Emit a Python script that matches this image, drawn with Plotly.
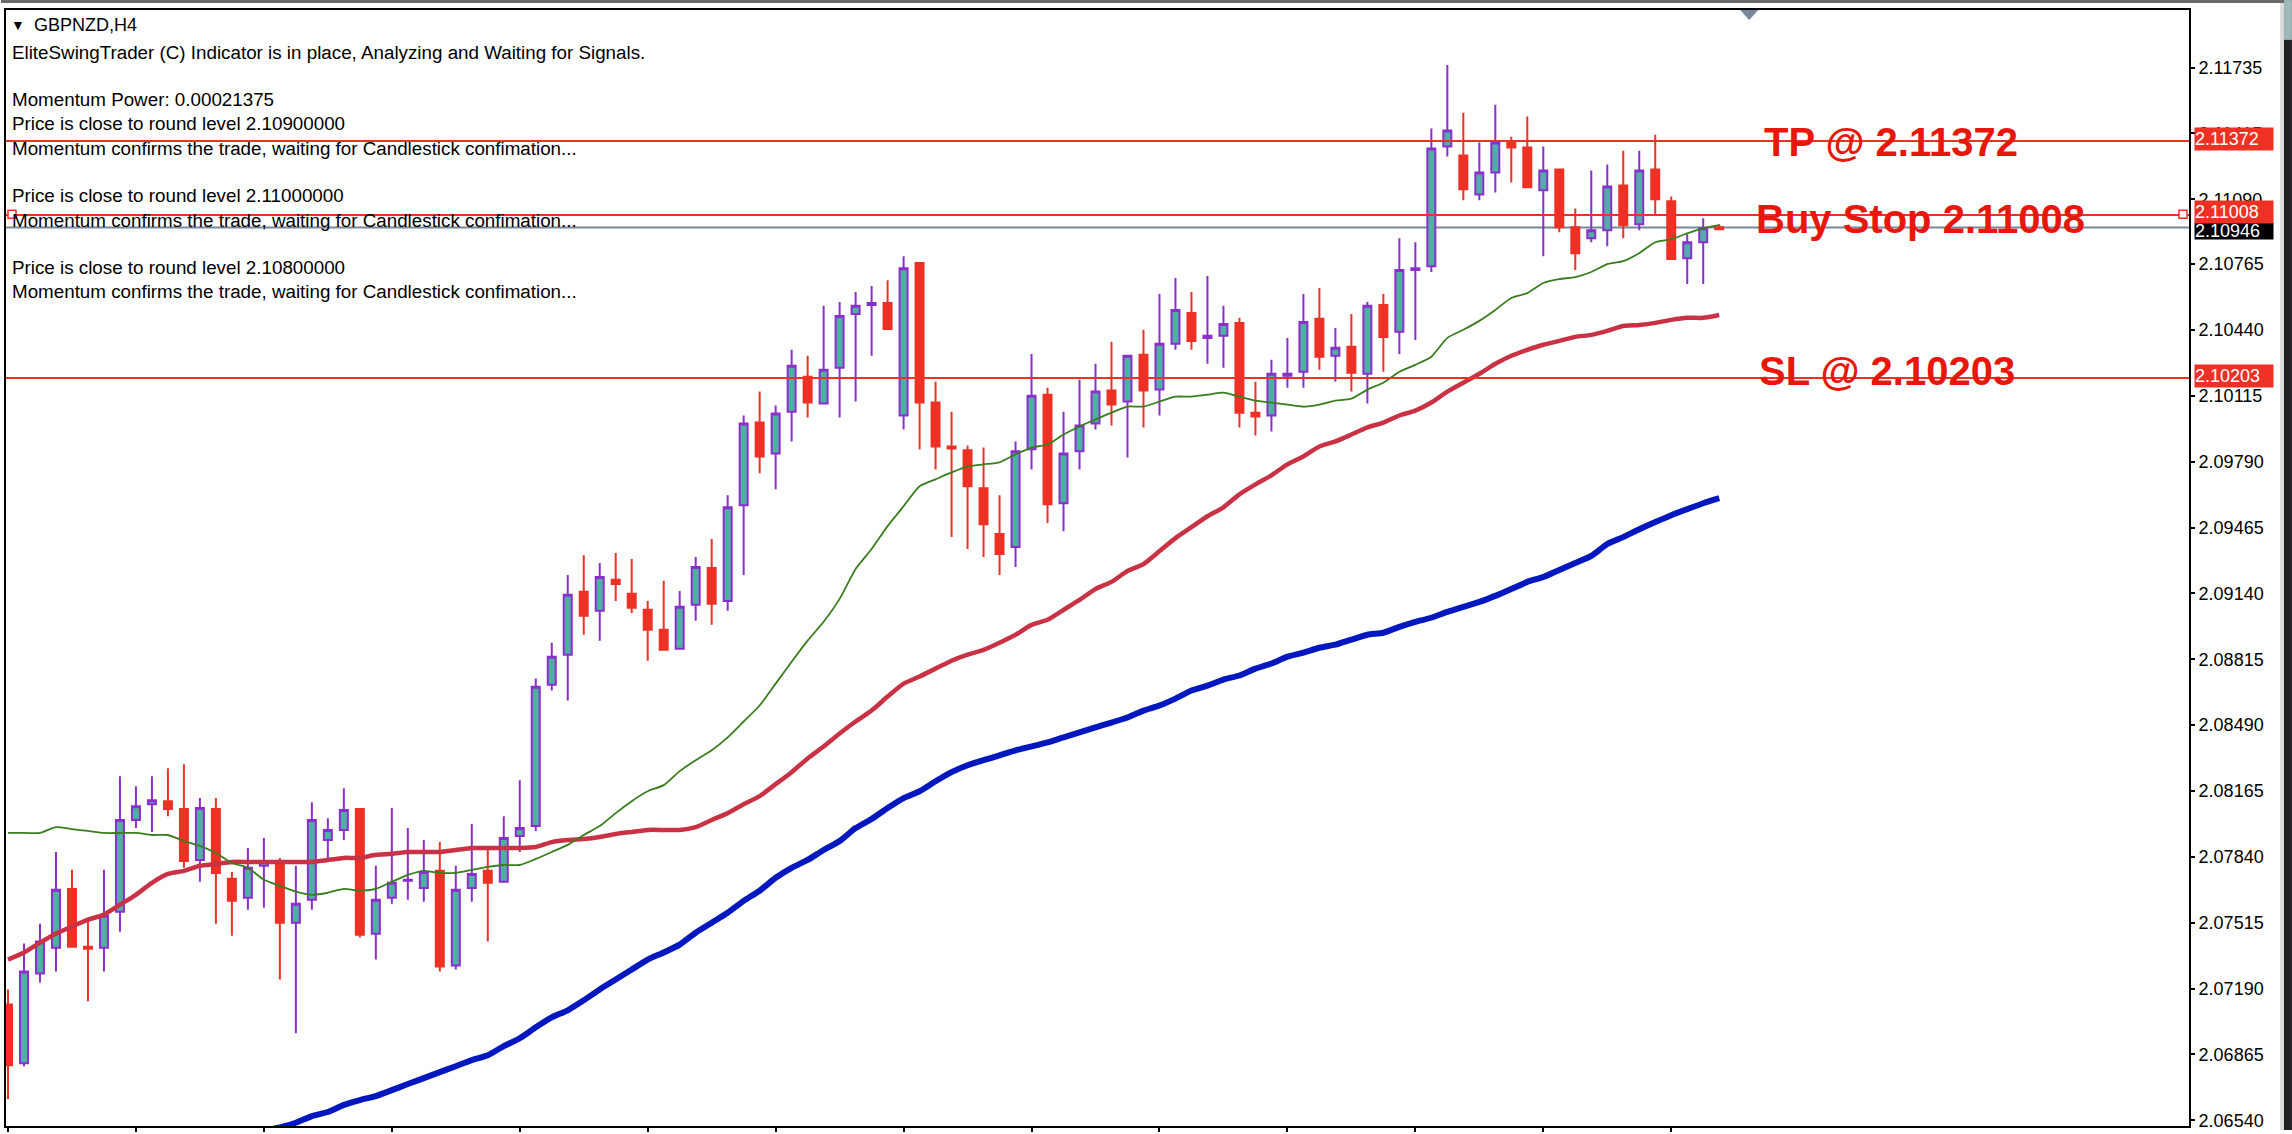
import plotly.graph_objects as go

# GBPNZD H4 bars
open_ = [2.07112, 2.06822, 2.07265, 2.07392, 2.07682, 2.07397, 2.07392, 2.07569, 2.08022, 2.08100, 2.08115, 2.08076,
         2.07825, 2.08076, 2.07732, 2.07638, 2.07796, 2.07810, 2.07515, 2.07628, 2.07923, 2.07973, 2.08076, 2.07461,
         2.07638, 2.07722, 2.07687, 2.07771, 2.07304, 2.07687, 2.07771, 2.07717, 2.07943, 2.07992, 2.08690, 2.08838,
         2.09148, 2.09054, 2.09207, 2.09138, 2.09059, 2.08961, 2.08867, 2.09084, 2.09266, 2.09103, 2.09575, 2.09983,
         2.09831, 2.10037, 2.10209, 2.10077, 2.10254, 2.10519, 2.10563, 2.10573, 2.10018, 2.10770, 2.10082, 2.09865,
         2.09846, 2.09659, 2.09433, 2.09369, 2.09851, 2.10121, 2.09585, 2.09841, 2.09978, 2.10141, 2.10087, 2.10318,
         2.10146, 2.10372, 2.10524, 2.10401, 2.10411, 2.10475, 2.10032, 2.10018, 2.10214, 2.10234, 2.10495, 2.10313,
         2.10357, 2.10224, 2.10563, 2.10431, 2.10736, 2.10755, 2.11345, 2.11301, 2.11109, 2.11217, 2.11365, 2.11340,
         2.11129, 2.11232, 2.10947, 2.10893, 2.10932, 2.11153, 2.10962, 2.11232, 2.11075, 2.10794, 2.10873, 2.10947]
close = [2.06812, 2.07274, 2.07422, 2.07678, 2.07397, 2.07387, 2.07550, 2.08022, 2.08090, 2.08120, 2.08076, 2.07820,
         2.08081, 2.07761, 2.07623, 2.07786, 2.07815, 2.07515, 2.07609, 2.08022, 2.07973, 2.08071, 2.07456, 2.07628,
         2.07712, 2.07727, 2.07766, 2.07299, 2.07678, 2.07756, 2.07712, 2.07933, 2.07982, 2.08680, 2.08828, 2.09133,
         2.09030, 2.09221, 2.09187, 2.09069, 2.08961, 2.08862, 2.09074, 2.09270, 2.09089, 2.09565, 2.09978, 2.09816,
         2.10028, 2.10264, 2.10082, 2.10244, 2.10509, 2.10559, 2.10573, 2.10445, 2.10745, 2.10082, 2.09865, 2.09855,
         2.09669, 2.09482, 2.09334, 2.09841, 2.10116, 2.09580, 2.09831, 2.09969, 2.10136, 2.10072, 2.10313, 2.10141,
         2.10372, 2.10539, 2.10386, 2.10411, 2.10470, 2.10032, 2.10013, 2.10224, 2.10224, 2.10480, 2.10308, 2.10352,
         2.10229, 2.10559, 2.10406, 2.10736, 2.10745, 2.11335, 2.11424, 2.11134, 2.11217, 2.11365, 2.11340, 2.11144,
         2.11227, 2.10947, 2.10819, 2.10932, 2.11148, 2.10957, 2.11227, 2.11085, 2.10790, 2.10873, 2.10942, 2.10937]
high = [2.07186, 2.07412, 2.07510, 2.07864, 2.07776, 2.07540, 2.07776, 2.08238, 2.08189, 2.08238, 2.08277, 2.08297,
        2.08130, 2.08130, 2.07766, 2.07884, 2.07933, 2.07835, 2.07796, 2.08110, 2.08031, 2.08179, 2.08081, 2.07796,
        2.08081, 2.07982, 2.07923, 2.07913, 2.07796, 2.08002, 2.07874, 2.08041, 2.08218, 2.08720, 2.08897, 2.09231,
        2.09329, 2.09290, 2.09339, 2.09310, 2.09103, 2.09202, 2.09152, 2.09320, 2.09408, 2.09624, 2.10018, 2.10136,
        2.10067, 2.10342, 2.10313, 2.10559, 2.10578, 2.10627, 2.10657, 2.10686, 2.10804, 2.10775, 2.10185, 2.10037,
        2.09870, 2.09860, 2.09624, 2.09890, 2.10322, 2.10155, 2.10037, 2.10195, 2.10273, 2.10382, 2.10318, 2.10441,
        2.10618, 2.10696, 2.10627, 2.10706, 2.10559, 2.10500, 2.10185, 2.10293, 2.10401, 2.10618, 2.10647, 2.10450,
        2.10519, 2.10578, 2.10618, 2.10893, 2.10873, 2.11434, 2.11748, 2.11512, 2.11365, 2.11552, 2.11394, 2.11493,
        2.11345, 2.11237, 2.11040, 2.11227, 2.11257, 2.11325, 2.11325, 2.11404, 2.11099, 2.10912, 2.10991, 2.10962]
low = [2.06645, 2.06807, 2.07220, 2.07274, 2.07392, 2.07127, 2.07274, 2.07471, 2.07982, 2.07963, 2.08041, 2.07786,
       2.07717, 2.07510, 2.07451, 2.07579, 2.07589, 2.07235, 2.06970, 2.07579, 2.07835, 2.07923, 2.07442, 2.07333,
       2.07609, 2.07628, 2.07619, 2.07274, 2.07284, 2.07619, 2.07422, 2.07712, 2.07864, 2.07968, 2.08661, 2.08612,
       2.08936, 2.08907, 2.09103, 2.09044, 2.08808, 2.08857, 2.08862, 2.09005, 2.08985, 2.09054, 2.09231, 2.09733,
       2.09654, 2.09890, 2.10008, 2.10072, 2.10008, 2.10087, 2.10313, 2.10441, 2.09949, 2.09851, 2.09752, 2.09418,
       2.09359, 2.09320, 2.09231, 2.09270, 2.09752, 2.09487, 2.09447, 2.09752, 2.09949, 2.09969, 2.09811, 2.09959,
       2.10018, 2.10342, 2.10342, 2.10273, 2.10254, 2.09959, 2.09919, 2.09939, 2.10155, 2.10155, 2.10244, 2.10185,
       2.10136, 2.10077, 2.10234, 2.10322, 2.10391, 2.10726, 2.11296, 2.11080, 2.11080, 2.11119, 2.11168, 2.11139,
       2.10804, 2.10922, 2.10736, 2.10873, 2.10853, 2.10893, 2.10932, 2.11011, 2.10785, 2.10667, 2.10667, 2.10932]

# moving averages, one value per bar
ma_fast = [2.07958, 2.07958, 2.07958, 2.07987, 2.07977, 2.07968, 2.07958, 2.07958, 2.07958, 2.07948, 2.07948, 2.07918,
           2.07894, 2.07859, 2.07810, 2.07786, 2.07727, 2.07697, 2.07668, 2.07653, 2.07663, 2.07682, 2.07673, 2.07682,
           2.07717, 2.07751, 2.07771, 2.07761, 2.07761, 2.07776, 2.07791, 2.07800, 2.07800, 2.07830, 2.07864, 2.07899,
           2.07948, 2.07992, 2.08056, 2.08115, 2.08164, 2.08194, 2.08263, 2.08317, 2.08366, 2.08430, 2.08508, 2.08587,
           2.08695, 2.08803, 2.08907, 2.09000, 2.09113, 2.09261, 2.09359, 2.09472, 2.09570, 2.09669, 2.09703, 2.09737,
           2.09767, 2.09777, 2.09787, 2.09826, 2.09860, 2.09875, 2.09924, 2.09964, 2.09998, 2.10032, 2.10062, 2.10062,
           2.10087, 2.10111, 2.10111, 2.10121, 2.10131, 2.10111, 2.10091, 2.10082, 2.10072, 2.10062, 2.10072, 2.10091,
           2.10101, 2.10146, 2.10180, 2.10234, 2.10268, 2.10308, 2.10401, 2.10441, 2.10485, 2.10539, 2.10598, 2.10622,
           2.10672, 2.10691, 2.10701, 2.10726, 2.10765, 2.10780, 2.10819, 2.10873, 2.10888, 2.10917, 2.10942, 2.10957]
ma_mid = [2.07333, 2.07368, 2.07417, 2.07461, 2.07496, 2.07530, 2.07555, 2.07604, 2.07653, 2.07712, 2.07756, 2.07771,
          2.07796, 2.07805, 2.07815, 2.07815, 2.07815, 2.07815, 2.07815, 2.07815, 2.07825, 2.07835, 2.07835, 2.07850,
          2.07855, 2.07864, 2.07864, 2.07864, 2.07874, 2.07884, 2.07884, 2.07884, 2.07884, 2.07889, 2.07913, 2.07923,
          2.07928, 2.07938, 2.07953, 2.07963, 2.07973, 2.07973, 2.07973, 2.07987, 2.08022, 2.08056, 2.08100, 2.08140,
          2.08199, 2.08258, 2.08326, 2.08385, 2.08449, 2.08508, 2.08562, 2.08631, 2.08695, 2.08730, 2.08769, 2.08808,
          2.08838, 2.08862, 2.08897, 2.08936, 2.08985, 2.09010, 2.09059, 2.09108, 2.09162, 2.09197, 2.09251, 2.09285,
          2.09349, 2.09413, 2.09467, 2.09521, 2.09565, 2.09629, 2.09678, 2.09723, 2.09777, 2.09816, 2.09865, 2.09890,
          2.09924, 2.09959, 2.09983, 2.10018, 2.10042, 2.10082, 2.10136, 2.10180, 2.10224, 2.10273, 2.10313, 2.10342,
          2.10367, 2.10386, 2.10406, 2.10416, 2.10436, 2.10460, 2.10465, 2.10475, 2.10490, 2.10500, 2.10500, 2.10514]
# slow average runs under the window for the first 16 bars
ma_slow = [None] * 16 + [
           2.06490, 2.06505, 2.06528, 2.06561, 2.06581, 2.06616, 2.06640, 2.06660,
           2.06689, 2.06719, 2.06748, 2.06778, 2.06807, 2.06837, 2.06861, 2.06906, 2.06945, 2.06999, 2.07048, 2.07083,
           2.07132, 2.07186, 2.07235, 2.07284, 2.07333, 2.07368, 2.07407, 2.07466, 2.07515, 2.07564, 2.07623, 2.07673,
           2.07737, 2.07786, 2.07825, 2.07874, 2.07918, 2.07982, 2.08027, 2.08081, 2.08130, 2.08164, 2.08213, 2.08258,
           2.08292, 2.08317, 2.08341, 2.08366, 2.08385, 2.08405, 2.08430, 2.08454, 2.08479, 2.08503, 2.08528, 2.08562,
           2.08587, 2.08621, 2.08661, 2.08685, 2.08715, 2.08735, 2.08769, 2.08794, 2.08828, 2.08848, 2.08872, 2.08887,
           2.08912, 2.08936, 2.08946, 2.08975, 2.09000, 2.09020, 2.09049, 2.09074, 2.09098, 2.09128, 2.09162, 2.09197,
           2.09221, 2.09256, 2.09290, 2.09325, 2.09384, 2.09418, 2.09457, 2.09492, 2.09526, 2.09556, 2.09585, 2.09610]

bars = list(range(len(close)))
time_ticks = bars[::8]

price_ticks = [2.11735, 2.11410, 2.11085, 2.10765, 2.10440, 2.10115, 2.09790, 2.09465, 2.09140,
               2.08815, 2.08490, 2.08165, 2.07840, 2.07515, 2.07190, 2.06865, 2.06540]
price_labels = ['2.11735', '2.11415', '2.11090', '2.10765', '2.10440', '2.10115', '2.09790', '2.09465', '2.09140',
                '2.08815', '2.08490', '2.08165', '2.07840', '2.07515', '2.07190', '2.06865', '2.06540']

tp_level = 2.11372
buy_level = 2.11008
sl_level = 2.10203
bid_level = 2.10946

info_lines = [
    ('EliteSwingTrader (C) Indicator is in place, Analyzing and Waiting for Signals.', 53),
    ('Momentum Power: 0.00021375', 100),
    ('Price is close to round level 2.10900000', 124),
    ('Momentum confirms the trade, waiting for Candlestick confimation...', 149),
    ('Price is close to round level 2.11000000', 196),
    ('Momentum confirms the trade, waiting for Candlestick confimation...', 221),
    ('Price is close to round level 2.10800000', 268),
    ('Momentum confirms the trade, waiting for Candlestick confimation...', 293),
]

RED = '#ee3124'
LABEL_RED = '#e8170c'
FONT = 'Liberation Sans'

# window frame of the chart, in page pixels
W, H = 2292, 1134
L, R, T, B = 5, 2189, 10, 1130


def fx(px):
    return (px - L) / (R - L)


def fy(py):
    return (B - py) / (B - T)


fig = go.Figure()
fig.add_trace(go.Candlestick(
    x=bars, open=open_, high=high, low=low, close=close,
    increasing=dict(line=dict(color='#8a2fcc', width=2), fillcolor='#52ada5'),
    decreasing=dict(line=dict(color=RED, width=2), fillcolor=RED),
    whiskerwidth=0, showlegend=False, hoverinfo='skip',
))
fig.add_trace(go.Scatter(x=bars, y=ma_slow, mode='lines', line=dict(color='#0317bf', width=6, shape='spline', smoothing=0.6),
                         showlegend=False, hoverinfo='skip'))
fig.add_trace(go.Scatter(x=bars, y=ma_mid, mode='lines', line=dict(color='#c93245', width=4.5, shape='spline', smoothing=0.6),
                         showlegend=False, hoverinfo='skip'))
fig.add_trace(go.Scatter(x=bars, y=ma_fast, mode='lines', line=dict(color='#3a7d1e', width=1.8, shape='spline', smoothing=0.6),
                         showlegend=False, hoverinfo='skip'))

shapes = []
# order lines
shapes.append(dict(type='line', xref='paper', x0=0, x1=1, yref='y', y0=bid_level, y1=bid_level,
                   line=dict(color='#778899', width=2), layer='below'))
for level in [tp_level, buy_level, sl_level]:
    shapes.append(dict(type='line', xref='paper', x0=0, x1=1, yref='y', y0=level, y1=level,
                       line=dict(color=RED, width=2)))
# little square handles on the pending order line
for px0, px1 in [(7, 15), (2179, 2187)]:
    shapes.append(dict(type='rect', xref='paper', yref='paper', x0=fx(px0), x1=fx(px1), y0=fy(219), y1=fy(211),
                       fillcolor='white', line=dict(color=RED, width=1.5)))
# shift marker on top of the window
shapes.append(dict(type='path', xref='paper', yref='paper',
                   path='M %f,%f L %f,%f L %f,%f Z' % (fx(1740), fy(10), fx(1758), fy(10), fx(1749), fy(20)),
                   fillcolor='#778899', line=dict(width=0)))
# terminal window edges around the chart
shapes.append(dict(type='rect', xref='paper', yref='paper', x0=fx(0), x1=fx(W), y0=fy(3), y1=fy(0),
                   fillcolor='#6b6b6b', line=dict(width=0)))
shapes.append(dict(type='rect', xref='paper', yref='paper', x0=fx(2280), x1=fx(2284), y0=fy(H), y1=fy(3),
                   fillcolor='#dddddd', line=dict(width=0)))
shapes.append(dict(type='rect', xref='paper', yref='paper', x0=fx(2284), x1=fx(W), y0=fy(H), y1=fy(0),
                   fillcolor='#1f2125', line=dict(width=0)))
shapes.append(dict(type='rect', xref='paper', yref='paper', x0=fx(2284), x1=fx(W), y0=fy(40), y1=fy(0),
                   fillcolor='#9db8ba', line=dict(width=0)))

annotations = []


def add_text(text, px, py, size, color='black', bold=False, **kw):
    annotations.append(dict(
        text='<b>%s</b>' % text if bold else text, xref='paper', yref='paper',
        x=fx(px), y=fy(py), xanchor='left', yanchor='middle', showarrow=False, align='left',
        font=dict(family=FONT, size=size, color=color), borderpad=0, **kw))


add_text('▼', 9, 25, 14)
add_text('GBPNZD,H4', 32, 25, 18)
for line, py in info_lines:
    add_text(line, 10, py, 18.8)

add_text('TP @ 2.11372', 1763, 142, 40, LABEL_RED, True)
add_text('Buy Stop 2.11008', 1755, 220, 40, LABEL_RED, True)
add_text('SL @ 2.10203', 1758, 372, 40, LABEL_RED, True)

# price tags on the axis, black one first so the red tag sits over it
add_text('2.10946', 2194, 232, 18, 'white', bgcolor='black', width=78, height=16)
add_text('2.11372', 2194, 139, 18, 'white', bgcolor=RED, width=78, height=22)
add_text('2.11008', 2194, 213, 18, 'white', bgcolor=RED, width=78, height=22)
add_text('2.10203', 2194, 377, 18, 'white', bgcolor=RED, width=78, height=22)

fig.update_layout(
    width=W, height=H, autosize=False,
    margin=dict(l=L, r=W - R, t=T, b=H - B, pad=0),
    paper_bgcolor='white', plot_bgcolor='white',
    boxgap=0.5, boxgroupgap=0,
    font=dict(family=FONT, size=18, color='black'),
    shapes=shapes, annotations=annotations,
    xaxis=dict(range=[-0.125, 136.375], rangeslider=dict(visible=False), showgrid=False, zeroline=False,
               showline=True, mirror=True, linecolor='black', linewidth=2,
               tickmode='array', tickvals=time_ticks, showticklabels=False,
               ticks='outside', ticklen=4, tickwidth=2, tickcolor='black'),
    yaxis=dict(range=[2.06512, 2.12019], side='right', showgrid=False, zeroline=False,
               showline=True, mirror=True, linecolor='black', linewidth=2,
               tickmode='array', tickvals=price_ticks, ticktext=price_labels,
               ticks='outside', ticklen=4, tickwidth=2, tickcolor='black',
               tickfont=dict(family=FONT, size=18, color='black')),
)

fig.write_html("out.html", config={'displayModeBar': False}, post_script="document.body.style.margin='0';")
